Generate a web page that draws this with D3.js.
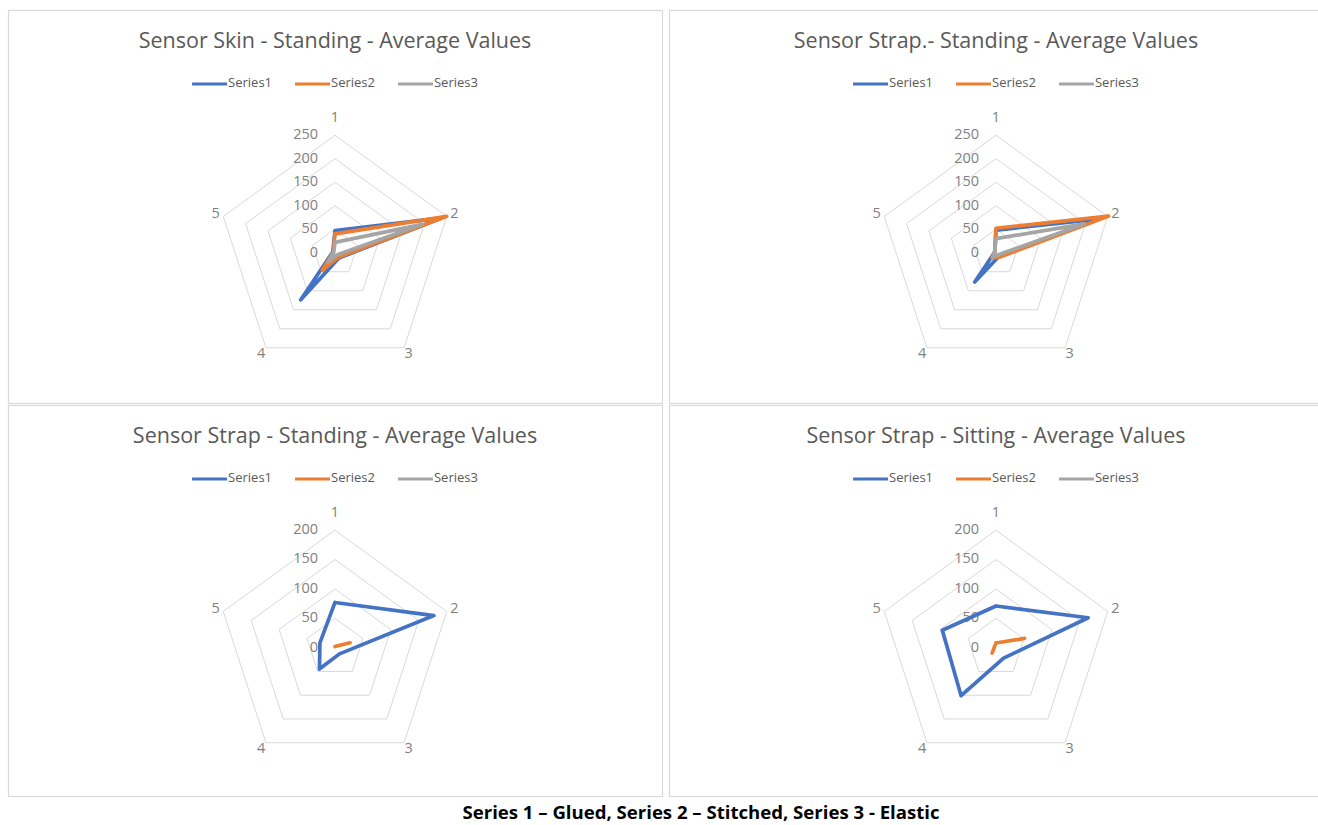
<!DOCTYPE html>
<html>
<head>
<meta charset="utf-8">
<script src="https://cdn.jsdelivr.net/npm/d3@7"></script>
<style>
  html, body { margin: 0; padding: 0; background: #ffffff; }
  svg { display: block; }
  text { font-family: "Open Sans", Lato, sans-serif; }
</style>
</head>
<body>
<svg id="chart" width="1318" height="825"></svg>
<script>
// ---- data ----
const axisLabels = ["1", "2", "3", "4", "5"];
const seriesNames = ["Series1", "Series2", "Series3"];
const seriesColors = ["#4472C4", "#ED7D31", "#A5A5A5"];

const chartTitles = [
  "Sensor Skin - Standing - Average Values",
  "Sensor Strap.- Standing - Average Values",
  "Sensor Strap - Standing - Average Values",
  "Sensor Strap - Sitting - Average Values"
];

const ticksWide = [0, 50, 100, 150, 200, 250];
const ticksNarrow = [0, 50, 100, 150, 200];

// Sensor Skin - Standing
const skinStandGlued    = [47, 240, 14, 124, 5];
const skinStandStitched = [40, 250, 12, 46, 4];
const skinStandElastic  = [22, 195, 6, 25, 3];

// Sensor Strap.- Standing
const strapStandAGlued    = [48, 232, 10, 77, 3];
const strapStandAStitched = [52, 252, 12, 14, 3];
const strapStandAElastic  = [30, 198, 6, 12, 3];

// Sensor Strap - Standing
const strapStandGlued    = [77, 177, 13, 45, 27];
const strapStandStitched = [2, 27, null, null, null];
const strapStandElastic  = [null, null, null, null, null];

// Sensor Strap - Sitting
const strapSitGlued    = [71, 165, 22, 101, 96];
const strapSitStitched = [8, 51, null, 11, 3];
const strapSitElastic  = [null, null, null, null, null];

const caption = "Series 1 \u2013 Glued, Series 2 \u2013 Stitched, Series 3 - Elastic";

// ---- layout ----
const svg = d3.select("#chart");
const panels = [
  { x: 8,   y: 10,  w: 654, h: 393, ticks: ticksWide,   series: [skinStandGlued, skinStandStitched, skinStandElastic] },
  { x: 669, y: 10,  w: 654, h: 393, ticks: ticksWide,   series: [strapStandAGlued, strapStandAStitched, strapStandAElastic] },
  { x: 8,   y: 405, w: 654, h: 391, ticks: ticksNarrow, series: [strapStandGlued, strapStandStitched, strapStandElastic] },
  { x: 669, y: 405, w: 654, h: 391, ticks: ticksNarrow, series: [strapSitGlued, strapSitStitched, strapSitElastic] }
];

const R = 117.5;
const angle = i => i * 2 * Math.PI / axisLabels.length;

panels.forEach((p, k) => {
  const g = svg.append("g").attr("transform", `translate(${p.x},${p.y})`);

  g.append("rect")
    .attr("x", 0.5).attr("y", 0.5)
    .attr("width", p.w).attr("height", p.h)
    .attr("fill", "#fff")
    .attr("stroke", "#d9d9d9").attr("stroke-width", 1.2);

  const cx = 327, cy = 242.7;

  g.append("text")
    .attr("x", cx).attr("y", 32.5)
    .attr("text-anchor", "middle")
    .attr("dominant-baseline", "middle")
    .attr("font-size", 21.5)
    .attr("fill", "#595959")
    .text(chartTitles[k]);

  // legend
  const legend = g.append("g");
  let lx = 0;
  seriesNames.forEach((name, i) => {
    const item = legend.append("g").attr("transform", `translate(${lx},0)`);
    item.append("line")
      .attr("x1", 0).attr("x2", 35).attr("y1", 0).attr("y2", 0)
      .attr("stroke", seriesColors[i]).attr("stroke-width", 2.8);
    const t = item.append("text")
      .attr("x", 36).attr("y", 0)
      .attr("dominant-baseline", "middle")
      .attr("font-size", 13)
      .attr("fill", "#595959")
      .text(name);
    lx += 36 + t.node().getComputedTextLength() + 23;
  });
  const legendW = lx - 23;
  legend.attr("transform", `translate(${cx - legendW / 2},${74})`);

  const maxV = d3.max(p.ticks);
  const r = d3.scaleLinear().domain([0, maxV]).range([0, R]);
  const plot = g.append("g").attr("transform", `translate(${cx},${cy})`);

  // grid rings
  const ring = d3.lineRadial()
    .angle((d, i) => angle(i))
    .radius(d => r(d))
    .curve(d3.curveLinearClosed);
  p.ticks.filter(t => t > 0).forEach(t => {
    plot.append("path")
      .attr("d", ring(axisLabels.map(() => t)))
      .attr("fill", "none")
      .attr("stroke", "#d9d9d9")
      .attr("stroke-width", 1);
  });

  // tick labels along the first axis
  plot.selectAll(".tick").data(p.ticks).enter().append("text")
    .attr("x", -17).attr("y", d => -r(d))
    .attr("text-anchor", "end")
    .attr("dominant-baseline", "middle")
    .attr("font-size", 14.5)
    .attr("fill", "#7f7f7f")
    .text(d => d);

  // category labels
  axisLabels.forEach((lab, i) => {
    const rr = R + (i === 0 ? 17 : 8);
    const a = angle(i);
    plot.append("text")
      .attr("x", rr * Math.sin(a))
      .attr("y", -rr * Math.cos(a))
      .attr("text-anchor", "middle")
      .attr("dominant-baseline", "middle")
      .attr("font-size", 14.5)
      .attr("fill", "#7f7f7f")
      .text(lab);
  });

  // series lines (closed, gaps where a value is missing)
  const line = d3.lineRadial()
    .defined(d => d.v != null)
    .angle(d => angle(d.i))
    .radius(d => r(d.v));
  p.series.forEach((vals, s) => {
    const pts = vals.map((v, i) => ({ i, v }));
    pts.push({ i: 0, v: vals[0] });
    plot.append("path")
      .attr("d", line(pts))
      .attr("fill", "none")
      .attr("stroke", seriesColors[s])
      .attr("stroke-width", 3.7)
      .attr("stroke-linejoin", "round")
      .attr("stroke-linecap", "round");
  });
});

svg.append("text")
  .attr("x", 701).attr("y", 814)
  .attr("text-anchor", "middle")
  .attr("dominant-baseline", "middle")
  .attr("font-size", 17)
  .attr("font-weight", "bold")
  .attr("fill", "#000")
  .attr("textLength", 477)
  .attr("lengthAdjust", "spacingAndGlyphs")
  .text(caption);
</script>
</body>
</html>
